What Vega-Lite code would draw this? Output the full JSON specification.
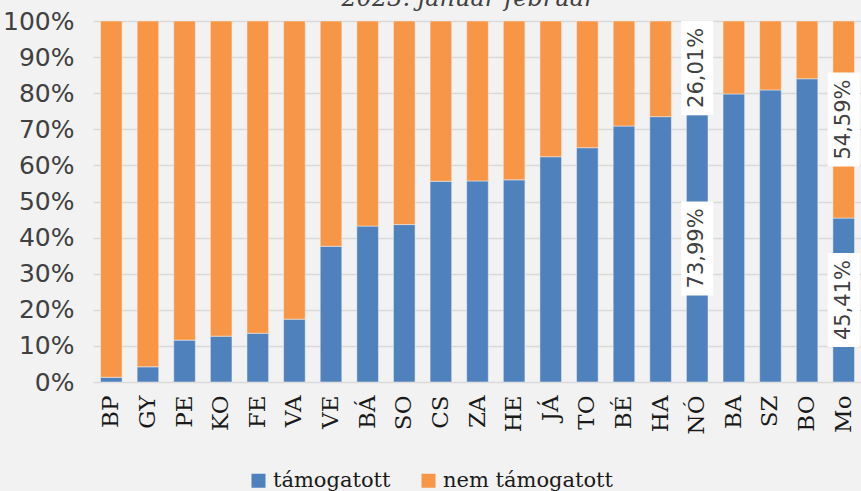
{
  "$schema": "https://vega.github.io/schema/vega-lite/v6.json",
  "autosize": {"type": "none"},
  "width": 769,
  "height": 361,
  "padding": {"left": 93, "top": 21, "right": 0, "bottom": 109},
  "background": "#f2f2f2",
  "title": {
    "text": "2023. január-február",
    "font": "DejaVu Serif",
    "fontStyle": "italic",
    "fontWeight": "normal",
    "fontSize": 24,
    "color": "#404040",
    "anchor": "middle",
    "frame": "group",
    "baseline": "alphabetic",
    "offset": -4,
    "dy": 17,
    "dx": -9
  },
  "config": {
    "view": {"stroke": null},
    "axis": {"domain": false, "ticks": false},
    "axisY": {
      "tickCount": 10,
      "labelOverlap": false,
      "labelExpr": "datum.value + '%'",
      "labelFont": "DejaVu Sans",
      "labelFontSize": 25,
      "labelColor": "#404040",
      "labelPadding": 19,
      "gridColor": "#d9d9d9",
      "gridWidth": 1.5
    }
  },
  "data": {
    "values": [
      {"megye": "BP", "tipus": "támogatott", "ertek": 1.3},
      {"megye": "BP", "tipus": "nem támogatott", "ertek": 98.7},
      {"megye": "GY", "tipus": "támogatott", "ertek": 4.2},
      {"megye": "GY", "tipus": "nem támogatott", "ertek": 95.8},
      {"megye": "PE", "tipus": "támogatott", "ertek": 11.6},
      {"megye": "PE", "tipus": "nem támogatott", "ertek": 88.4},
      {"megye": "KO", "tipus": "támogatott", "ertek": 12.7},
      {"megye": "KO", "tipus": "nem támogatott", "ertek": 87.3},
      {"megye": "FE", "tipus": "támogatott", "ertek": 13.5},
      {"megye": "FE", "tipus": "nem támogatott", "ertek": 86.5},
      {"megye": "VA", "tipus": "támogatott", "ertek": 17.4},
      {"megye": "VA", "tipus": "nem támogatott", "ertek": 82.6},
      {"megye": "VE", "tipus": "támogatott", "ertek": 37.6},
      {"megye": "VE", "tipus": "nem támogatott", "ertek": 62.4},
      {"megye": "BÁ", "tipus": "támogatott", "ertek": 43.2},
      {"megye": "BÁ", "tipus": "nem támogatott", "ertek": 56.8},
      {"megye": "SO", "tipus": "támogatott", "ertek": 43.6},
      {"megye": "SO", "tipus": "nem támogatott", "ertek": 56.4},
      {"megye": "CS", "tipus": "támogatott", "ertek": 55.6},
      {"megye": "CS", "tipus": "nem támogatott", "ertek": 44.4},
      {"megye": "ZA", "tipus": "támogatott", "ertek": 55.7},
      {"megye": "ZA", "tipus": "nem támogatott", "ertek": 44.3},
      {"megye": "HE", "tipus": "támogatott", "ertek": 56.0},
      {"megye": "HE", "tipus": "nem támogatott", "ertek": 44.0},
      {"megye": "JÁ", "tipus": "támogatott", "ertek": 62.4},
      {"megye": "JÁ", "tipus": "nem támogatott", "ertek": 37.6},
      {"megye": "TO", "tipus": "támogatott", "ertek": 64.9},
      {"megye": "TO", "tipus": "nem támogatott", "ertek": 35.1},
      {"megye": "BÉ", "tipus": "támogatott", "ertek": 70.9},
      {"megye": "BÉ", "tipus": "nem támogatott", "ertek": 29.1},
      {"megye": "HA", "tipus": "támogatott", "ertek": 73.5},
      {"megye": "HA", "tipus": "nem támogatott", "ertek": 26.5},
      {"megye": "NÓ", "tipus": "támogatott", "ertek": 73.99},
      {"megye": "NÓ", "tipus": "nem támogatott", "ertek": 26.01},
      {"megye": "BA", "tipus": "támogatott", "ertek": 79.8},
      {"megye": "BA", "tipus": "nem támogatott", "ertek": 20.2},
      {"megye": "SZ", "tipus": "támogatott", "ertek": 80.9},
      {"megye": "SZ", "tipus": "nem támogatott", "ertek": 19.1},
      {"megye": "BO", "tipus": "támogatott", "ertek": 84.0},
      {"megye": "BO", "tipus": "nem támogatott", "ertek": 16.0},
      {"megye": "Mo", "tipus": "támogatott", "ertek": 45.41},
      {"megye": "Mo", "tipus": "nem támogatott", "ertek": 54.59}
    ]
  },
  "encoding": {
    "x": {
      "field": "megye",
      "type": "nominal",
      "sort": null,
      "title": null,
      "scale": {"paddingInner": 0.41, "paddingOuter": 0.205},
      "axis": {
        "labelAngle": -90,
        "labelFont": "DejaVu Serif",
        "labelFontSize": 23,
        "labelColor": "#1a1a1a",
        "labelPadding": 13,
        "grid": false
      }
    }
  },
  "layer": [
    {
      "mark": {"type": "bar", "stroke": "#f2f2f2", "strokeWidth": 0.5},
      "encoding": {
        "y": {
          "field": "ertek",
          "type": "quantitative",
          "stack": "zero",
          "title": null,
          "scale": {"domain": [0, 100], "nice": false}
        },
        "order": {"field": "tipus", "sort": "descending"},
        "color": {
          "field": "tipus",
          "type": "nominal",
          "scale": {"domain": ["támogatott", "nem támogatott"], "range": ["#4f81bd", "#f79646"]},
          "legend": {
            "title": null,
            "orient": "none",
            "direction": "horizontal",
            "legendX": 155,
            "legendY": 449,
            "symbolType": "square",
            "symbolSize": 196,
            "symbolStrokeWidth": 0,
            "labelFont": "DejaVu Serif",
            "labelFontSize": 21,
            "labelLimit": 400,
            "labelColor": "#1a1a1a",
            "labelOffset": 4,
            "columnPadding": 27
          }
        }
      }
    },
    {
      "transform": [
        {"stack": "ertek", "groupby": ["megye"], "sort": [{"field": "tipus", "order": "descending"}], "as": ["y0", "y1"]},
        {"filter": "datum.megye === 'NÓ' || datum.megye === 'Mo'"},
        {"calculate": "(datum.y0 + datum.y1) / 2", "as": "mid"},
        {"calculate": "datum.mid - 13", "as": "box_lo"},
        {"calculate": "datum.mid + 13", "as": "box_hi"},
        {"calculate": "replace(format(datum.ertek, '.2f'), '.', ',') + '%'", "as": "felirat"}
      ],
      "layer": [
        {
          "mark": {"type": "bar", "color": "#ffffff", "width": 32},
          "encoding": {
            "y": {"field": "box_lo", "type": "quantitative", "title": null},
            "y2": {"field": "box_hi"}
          }
        },
        {
          "mark": {"type": "text", "angle": 270, "font": "DejaVu Sans", "fontSize": 21, "color": "#404040", "align": "center", "baseline": "middle"},
          "encoding": {
            "y": {"field": "mid", "type": "quantitative", "title": null},
            "text": {"field": "felirat"}
          }
        }
      ]
    }
  ]
}
